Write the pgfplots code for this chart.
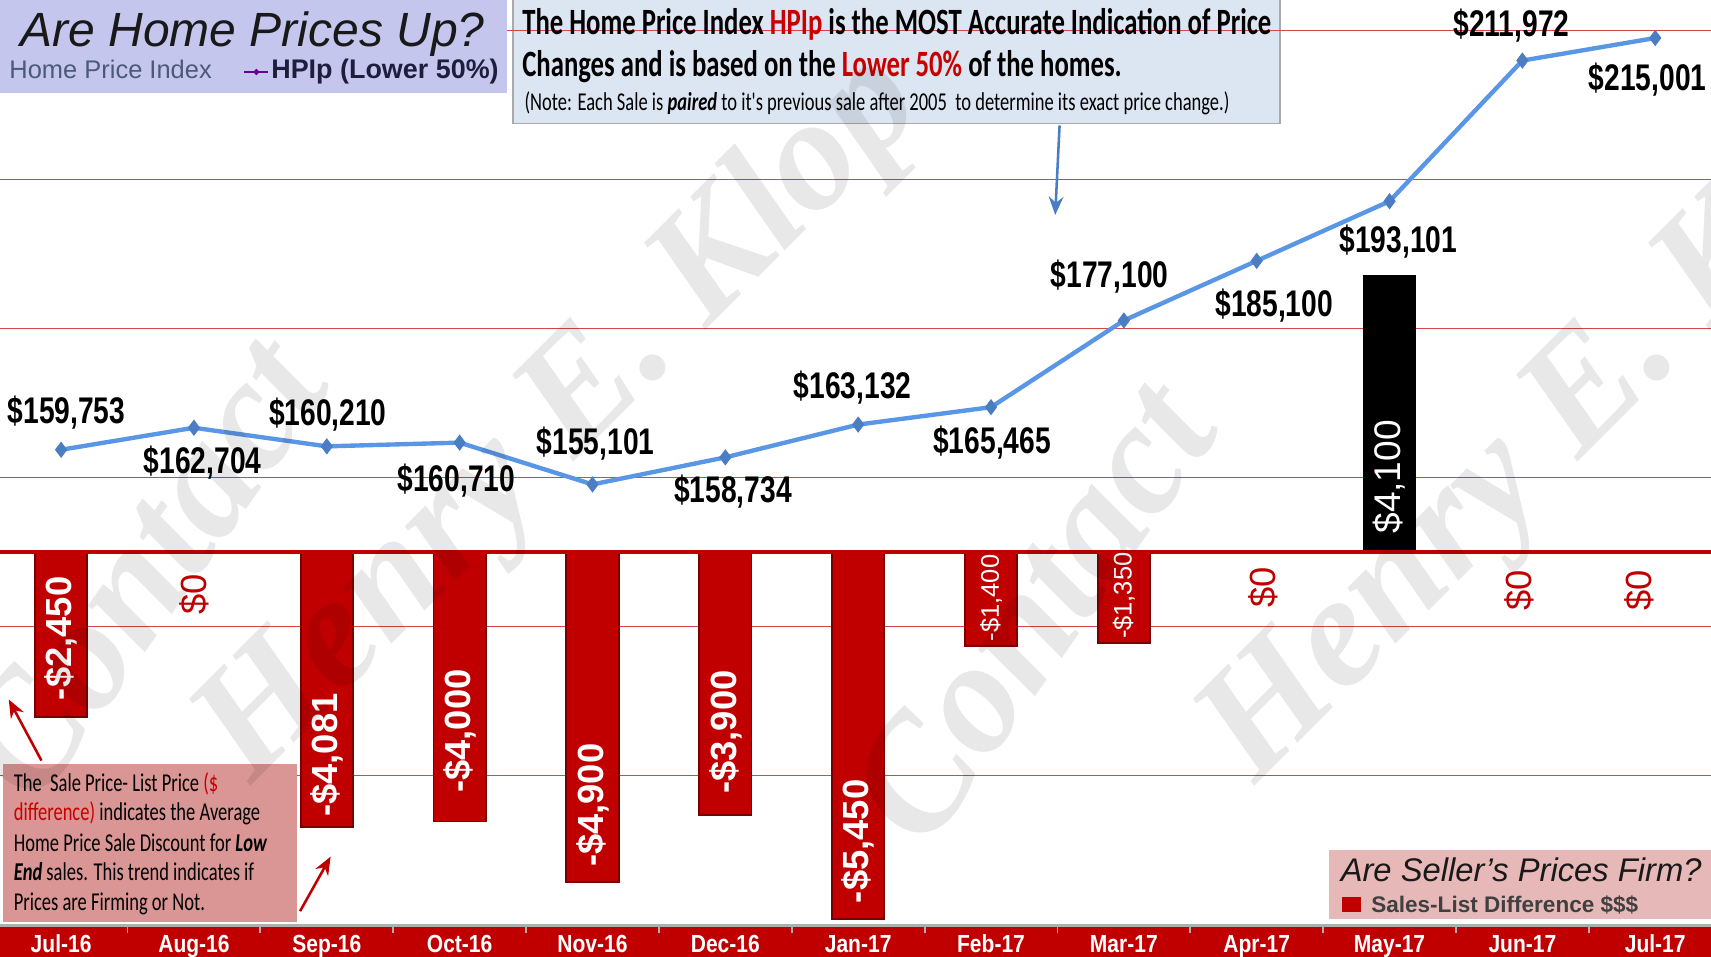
\documentclass[border=0pt]{standalone}
\usepackage{fontspec}
\usepackage{pgfplots}
\pgfplotsset{compat=1.18}
\usetikzlibrary{arrows.meta}
\setmainfont{Liberation Sans}
\newfontfamily\arialn[FakeStretch=0.76]{Liberation Sans}
\newfontfamily\arialm[FakeStretch=0.85]{Liberation Sans}
\newfontfamily\calb[FakeStretch=0.72]{Carlito}
\newfontfamily\wmfont{Liberation Serif}
\definecolor{barred}{RGB}{192,0,0}
\definecolor{bardark}{RGB}{120,0,0}
\definecolor{gridred}{RGB}{215,70,70}
\definecolor{lineblue}{RGB}{90,150,230}
\definecolor{markblue}{RGB}{75,125,195}
\definecolor{titlebg}{RGB}{197,198,238}
\definecolor{notebg}{RGB}{220,230,242}
\definecolor{notegray}{RGB}{170,170,170}
\definecolor{txtred}{RGB}{200,0,0}
\definecolor{boxpink}{RGB}{217,150,148}
\definecolor{legpink}{RGB}{230,185,184}
\definecolor{subgray}{RGB}{75,90,120}
\definecolor{hpitext}{RGB}{30,30,60}
\definecolor{bandgray}{RGB}{175,175,175}

\pgfplotsset{common/.style={at={(0pt,8.7pt)}, anchor=south west, scale only axis,
  width=470.4pt, height=254.4pt, xmin=-0.46, xmax=12.42, clip=false}}

\begin{document}
\begin{tikzpicture}
\path[use as bounding box] (0,0) rectangle (470.4pt,263.1pt);
\clip (0,0) rectangle (470.4pt,263.1pt);
\fill[white] (0,0) rectangle (470.4pt,263.1pt);

\begin{scope}[shift={(0pt,263.1pt)}, x=0.3pt, y=-0.3pt]
\filldraw[fill=notebg, draw=notegray, line width=0.4pt] (470,-2) rectangle (1173,113);
\end{scope}

% gridlines (HPIp scale)
\begin{axis}[common, ymin=95941, ymax=220100,
  xtick=\empty, ytick={116000,136000,156000,176000,196000,216000}, yticklabels={},
  ymajorgrids, major grid style={gridred, line width=0.35pt},
  axis line style={draw=none}, major tick length=0pt]
\end{axis}

% bars: sales - list difference
\begin{axis}[common, ymin=-5543, ymax=8201,
  axis x line*=bottom, axis y line=none, axis on top,
  x axis line style={bandgray, line width=0.7pt},
  xtick={0,...,12},
  xticklabels={Jul-16,Aug-16,Sep-16,Oct-16,Nov-16,Dec-16,Jan-17,Feb-17,Mar-17,Apr-17,May-17,Jun-17,Jul-17},
  xticklabel style={anchor=base, yshift=-7.4pt, text=white, font=\arialm\bfseries\fontsize{6.8}{8}\selectfont},
  major tick length=0pt,
  minor xtick={-0.5,0.5,...,12.5}, minor tick length=2.1pt, tick align=outside,
  minor tick style={bandgray, line width=0.5pt}]
\fill[barred] (rel axis cs:0,0) rectangle (rel axis cs:1,-0.0342);
\addplot[ybar, bar width=14.4pt, bar shift=0pt, fill=barred, draw=bardark, line width=0.5pt]
  coordinates {(0,-2450) (1,0) (2,-4081) (3,-4000) (4,-4900) (5,-3900) (6,-5450) (7,-1400) (8,-1350) (9,0) (11,0) (12,0)};
\addplot[ybar, bar width=14.4pt, bar shift=0pt, fill=black, draw=black]
  coordinates {(10,4100)};
\draw[barred, line width=1.1pt] (rel axis cs:0,0) ++(0,0) (axis cs:-0.46,0) -- (axis cs:12.42,0);
\begin{scope}[every node/.style={rotate=90, text=white, inner sep=0pt, font=\bfseries\fontsize{10}{12}\selectfont}]
\node at (axis cs:0,-1280) {-\$2,450};
\node at (axis cs:2,-3015) {-\$4,081};
\node at (axis cs:3,-2658) {-\$4,000};
\node at (axis cs:4,-3760) {-\$4,900};
\node at (axis cs:5,-2674) {-\$3,900};
\node at (axis cs:6,-4295) {-\$5,450};
\node[font=\fontsize{7}{8}\selectfont] at (axis cs:7,-681) {-\$1,400};
\node[font=\fontsize{7}{8}\selectfont] at (axis cs:8,-648) {-\$1,350};
\node[font=\fontsize{10.2}{12}\selectfont] at (axis cs:10,1118) {\$4,100};
\node[text=barred, font=\fontsize{10}{12}\selectfont] at (axis cs:1,-632) {\$0};
\node[text=barred, font=\fontsize{10}{12}\selectfont] at (axis cs:9.05,-519) {\$0};
\node[text=barred, font=\fontsize{10}{12}\selectfont] at (axis cs:10.98,-567) {\$0};
\node[text=barred, font=\fontsize{10}{12}\selectfont] at (axis cs:11.88,-567) {\$0};
\end{scope}
\end{axis}

% HPIp line
\begin{axis}[common, ymin=95941, ymax=220100, hide axis]
\addplot[lineblue, line width=1.2pt, mark=diamond*, mark size=2pt,
  mark options={fill=markblue, draw=markblue, line width=0.3pt}]
  coordinates {(0,159753) (1,162704) (2,160210) (3,160710) (4,155101) (5,158734) (6,163132)
   (7,165465) (8,177100) (9,185100) (10,193101) (11,211972) (12,215001)};
\begin{scope}[every node/.style={inner sep=0pt, font=\arialn\bfseries\fontsize{10.2}{12}\selectfont}]
\node[xshift=1.5pt, yshift=10.2pt] at (axis cs:0,159753) {\$159,753};
\node[xshift=2.4pt, yshift=-9.6pt] at (axis cs:1,162704) {\$162,704};
\node[xshift=0.3pt, yshift=8.7pt] at (axis cs:2,160210) {\$160,210};
\node[xshift=-0.9pt, yshift=-10.5pt] at (axis cs:3,160710) {\$160,710};
\node[xshift=0.9pt, yshift=11.1pt] at (axis cs:4,155101) {\$155,101};
\node[xshift=2.1pt, yshift=-9.3pt] at (axis cs:5,158734) {\$158,734};
\node[xshift=-1.5pt, yshift=10.2pt] at (axis cs:6,163132) {\$163,132};
\node[xshift=0.3pt, yshift=-9.6pt] at (axis cs:7,165465) {\$165,465};
\node[xshift=-3.9pt, yshift=12pt] at (axis cs:8,177100) {\$177,100};
\node[xshift=4.8pt, yshift=-12.3pt] at (axis cs:9,185100) {\$185,100};
\node[xshift=2.4pt, yshift=-11.1pt] at (axis cs:10,193101) {\$193,101};
\node[xshift=-3pt, yshift=9.6pt] at (axis cs:11,211972) {\$211,972};
\node[xshift=-2.1pt, yshift=-11.4pt] at (axis cs:12,215001) {\$215,001};
\end{scope}
\end{axis}

\begin{scope}[shift={(0pt,263.1pt)}, x=0.3pt, y=-0.3pt]
% title box
\fill[titlebg] (0,0) rectangle (465,85);
\node[anchor=base west, inner sep=0pt, text=black!90, font=\itshape\fontsize{13.2}{15}\selectfont] at (18,43) {Are Home Prices Up?};
\node[anchor=base west, inner sep=0pt, text=subgray, font=\fontsize{7}{8}\selectfont] at (8,72) {Home Price Index};
\draw[violet!80!blue, line width=0.6pt] (224,66) -- (246,66);
\fill[violet!80!blue] (235,63) -- (238,66) -- (235,69) -- (232,66) -- cycle;
\node[anchor=base west, inner sep=0pt, text=hpitext, font=\bfseries\fontsize{7.4}{8}\selectfont] at (248,72) {HPIp (Lower 50\%)};
% note text
\node[anchor=base west, inner sep=0pt, font=\calb\bfseries\fontsize{10.2}{12}\selectfont] at (478,32)
  {The Home Price Index \textcolor{txtred}{HPIp} is the MOST Accurate Indication of Price};
\node[anchor=base west, inner sep=0pt, font=\calb\bfseries\fontsize{10.2}{12}\selectfont] at (478,70)
  {Changes and is based on the \textcolor{txtred}{Lower 50\%} of the homes.};
\node[anchor=base west, inner sep=0pt, font=\calb\fontsize{7.07}{8}\selectfont] at (480,101)
  {(Note: Each Sale is \textbf{\textit{paired}} to it's previous sale after 2005\ \ to determine its exact price change.)};
\draw[markblue, line width=0.7pt, -{Stealth[length=5pt,width=4pt]}] (971,115) -- (967,197);
% left explanation box
\fill[boxpink] (3,700) rectangle (272,845);
\begin{scope}[every node/.style={anchor=base west, inner sep=0pt, font=\calb\fontsize{7.07}{8}\selectfont}]
\node at (12,725) {The\ \ Sale Price- List Price \textcolor{txtred}{(\$}};
\node at (12,752) {\textcolor{txtred}{difference)} indicates the Average};
\node at (12,780) {Home Price Sale Discount for \textbf{\textit{Low}}};
\node at (12,807) {\textbf{\textit{End}} sales. This trend indicates if};
\node at (12,834) {Prices are Firming or Not.};
\end{scope}
\draw[barred, line width=0.7pt, -{Stealth[length=5pt,width=4pt]}] (38,697) -- (8,641);
\draw[barred, line width=0.7pt, -{Stealth[length=5pt,width=4pt]}] (275,835) -- (303,785);
% legend box
\fill[legpink] (1218,779) rectangle (1568,842);
\node[anchor=base west, inner sep=0pt, text=black!90, font=\itshape\fontsize{9}{10}\selectfont] at (1228,808) {Are Seller's Prices Firm?};
\fill[barred] (1230,822) rectangle (1247,836);
\node[anchor=base west, inner sep=0pt, text=black!75, font=\bfseries\fontsize{6.2}{7}\selectfont] at (1256,836) {Sales-List Difference \$\$\$};
% watermark
\begin{scope}[every node/.style={text=black, opacity=0.09, font=\wmfont\bfseries\itshape\fontsize{44}{44}\selectfont}]
\node[rotate=55] at (130,520) {Contact};
\node[rotate=45] at (515,385) {Henry E. Klop};
\node[rotate=55] at (945,560) {Contact};
\node[rotate=45] at (1435,385) {Henry E. Klop};
\end{scope}
\end{scope}
\end{tikzpicture}
\end{document}
